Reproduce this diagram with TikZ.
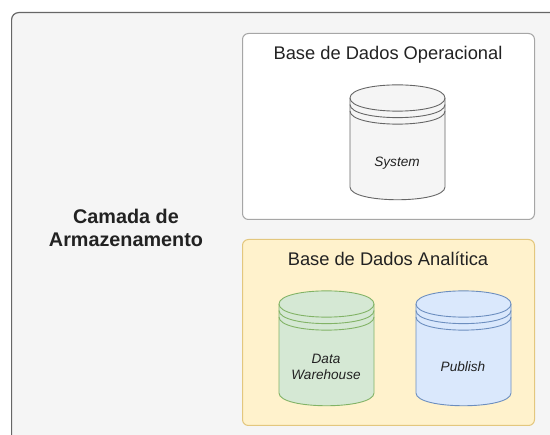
\documentclass[tikz,border=0pt]{standalone}
\usepackage{fontspec}
\setmainfont{Liberation Sans}
\definecolor{outerfill}{HTML}{F5F5F5}
\definecolor{outerline}{HTML}{666666}
\definecolor{boxline}{HTML}{A6A6A6}
\definecolor{yfill}{HTML}{FFF2CC}
\definecolor{yline}{HTML}{E3C77E}
\definecolor{gfill}{HTML}{D5E8D4}
\definecolor{gline}{HTML}{82B366}
\definecolor{bfill}{HTML}{DAE8FC}
\definecolor{bline}{HTML}{6C8EBF}
\definecolor{sline}{HTML}{666666}
\definecolor{txt}{HTML}{222222}
\newcommand{\dbcyl}[7]{% x-left, y-top, fill, line, name, label, label y
  \begin{scope}[shift={(#1,#2)}]
    \path[fill=#3,draw=#4,line width=0.9pt]
      (0,13) .. controls (0,-4.5) and (95,-4.5) .. (95,13)
      -- (95,102) .. controls (95,119) and (0,119) .. (0,102) -- cycle;
    \draw[#4,line width=0.9pt] (0,13) .. controls (0,30.5) and (95,30.5) .. (95,13);
    \draw[#4,line width=0.9pt] (0,19.5) .. controls (0,37) and (95,37) .. (95,19.5);
    \draw[#4,line width=0.9pt] (0,26) .. controls (0,43.5) and (95,43.5) .. (95,26);
  \end{scope}
  \node[cyltext] (#5) at (#1+47,#7) {#6};
}
\tikzset{
  x=1pt,y=-1pt,
  cyltext/.style={font=\fontsize{13.6}{16}\selectfont\itshape,text=txt,align=center,inner sep=0pt},
  paneltitle/.style={font=\fontsize{18.3}{22}\selectfont,text=txt,inner sep=0pt,anchor=center},
  panel/.style={rounded corners=6pt,line width=1pt}
}
\begin{document}
\begin{tikzpicture}
\useasboundingbox (0,0) rectangle (550,435);
\clip (0,0) rectangle (550,435);
\path[fill=white] (0,0) rectangle (550,435);
\node[draw=outerline,fill=outerfill,line width=1.2pt,rounded corners=7pt,minimum width=640pt,minimum height=540pt,anchor=north west,inner sep=0pt] (outer) at (11,12) {};
\node[panel,draw=boxline,fill=white,minimum width=292pt,minimum height=186pt,anchor=north west,inner sep=0pt] (oper) at (242,33) {};
\node[panel,draw=yline,fill=yfill,minimum width=292pt,minimum height=186pt,anchor=north west,inner sep=0pt] (anal) at (242,239) {};
\node[font=\fontsize{19.8}{23}\selectfont\bfseries,text=txt,align=center,inner sep=0pt] (camada) at (126,227.5) {Camada de\\Armazenamento};
\node[paneltitle] (t1) at (388,55) {Base de Dados Operacional};
\node[paneltitle] (t2) at (388,259) {Base de Dados Analítica};
\dbcyl{350}{85}{outerfill}{sline}{sys}{System}{163}
\dbcyl{279}{291}{gfill}{gline}{dw}{Data\\Warehouse}{367}
\dbcyl{416}{291}{bfill}{bline}{pub}{Publish}{367}
\end{tikzpicture}
\end{document}
